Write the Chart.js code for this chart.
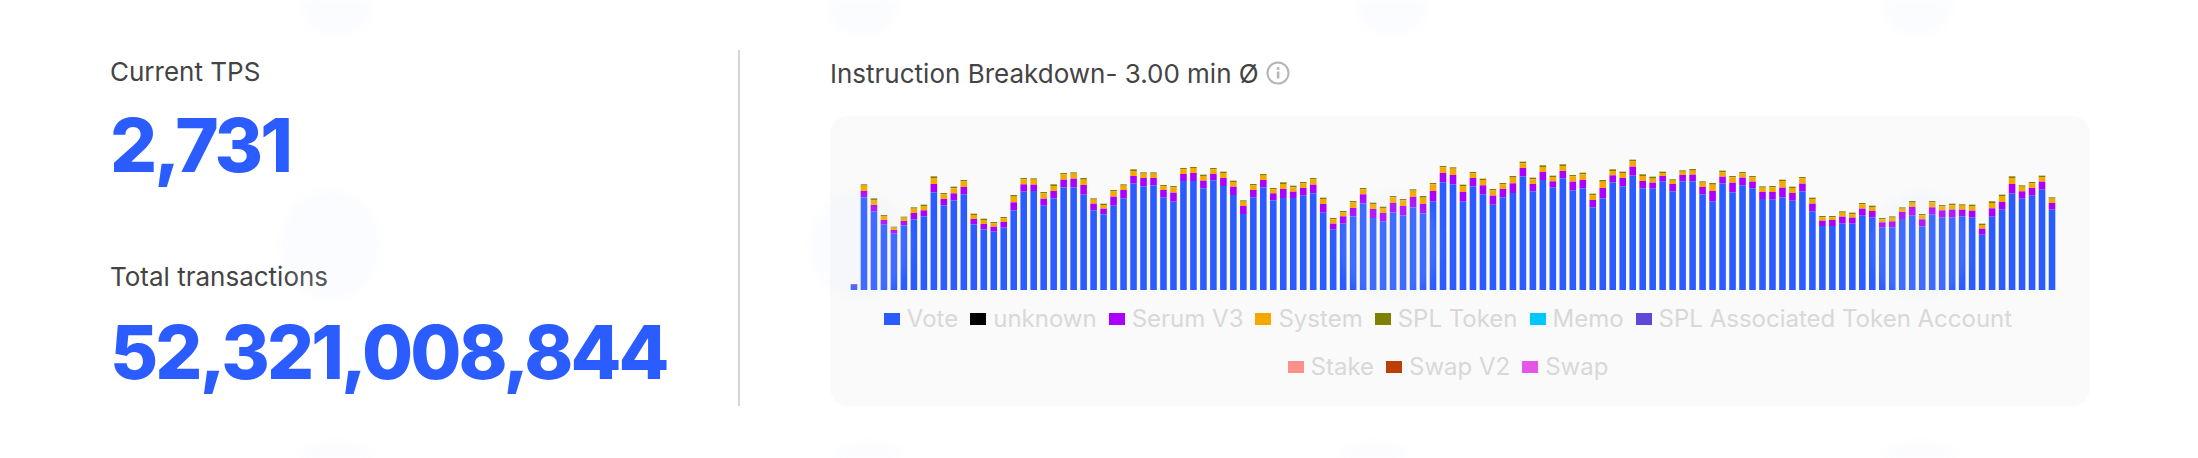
<!DOCTYPE html>
<html>
<head>
<meta charset="utf-8">
<title>Instruction Breakdown</title>
<script src="https://cdn.jsdelivr.net/npm/chart.js@4"></script>
<style>
  html, body { margin: 0; padding: 0; background: #fff; }
  body { width: 2198px; height: 458px; position: relative; overflow: hidden; font-family: Inter, sans-serif; }
  .abs { position: absolute; white-space: nowrap; line-height: 1; }
  .label { left: 110px; font-size: 26px; color: #444; }
  .value { left: 110px; font-size: 74px; font-weight: 800; color: #2a5cff; letter-spacing: -2.9px; }
  #divider { position: absolute; left: 738px; top: 50px; width: 2px; height: 356px; background: #d6d6d6; }
  #title { left: 830px; top: 61px; font-size: 26px; color: #444; }
  #info { position: absolute; left: 1266px; top: 61px; }
  #panel { position: absolute; left: 830px; top: 116px; width: 1260px; height: 290px; background: #fafafa; border-radius: 18px; }
  #chartBox { position: absolute; left: 849px; top: 140px; width: 1208px; height: 150px; }
  #legend { position: absolute; left: 848px; width: 1200px; top: 301px; display: flex; flex-wrap: wrap; justify-content: center; font-size: 24px; color: #d8d8d8; line-height: 36px; row-gap: 12px; }
  #legend div { display: flex; align-items: center; margin: 0 6px; }
  #legend i { display: block; width: 16px; height: 12px; margin-right: 7px; }
  #watermark { position: absolute; left: 0; top: 0; pointer-events: none; filter: blur(5px); }
</style>
</head>
<body>
<div class="abs label" id="tpsLabel" style="top:59px">Current TPS</div>
<div class="abs value" id="tpsValue" style="top:108px">2,731</div>
<div class="abs label" id="totalLabel" style="top:264px">Total transactions</div>
<div class="abs value" id="totalValue" style="top:315px">52,321,008,844</div>
<div id="divider"></div>
<div class="abs" id="title">Instruction Breakdown- 3.00 min Ø</div>
<svg id="info" width="24" height="24" viewBox="0 0 24 24">
  <circle cx="12" cy="12" r="10.5" fill="none" stroke="#b5b5b5" stroke-width="2"/>
  <rect x="10.8" y="10.5" width="2.6" height="7" fill="#b5b5b5"/>
  <rect x="10.8" y="6.2" width="2.6" height="2.6" fill="#b5b5b5"/>
</svg>
<div id="panel"></div>
<div id="chartBox"><canvas id="breakdownChart" width="1208" height="150"></canvas></div>
<div id="legend"></div>
<svg id="watermark" width="2198" height="458" fill="rgb(225,233,255)" fill-opacity="0.12">
  <ellipse cx="337" cy="0" rx="36" ry="36"/>
  <ellipse cx="862" cy="0" rx="36" ry="36"/>
  <ellipse cx="1392" cy="0" rx="36" ry="36"/>
  <ellipse cx="1917" cy="0" rx="36" ry="36"/>
  <ellipse cx="330" cy="245" rx="50" ry="55"/>
  <ellipse cx="860" cy="245" rx="50" ry="55"/>
  <ellipse cx="1390" cy="245" rx="50" ry="55"/>
  <ellipse cx="1920" cy="245" rx="50" ry="55"/>
  <ellipse cx="336" cy="458" rx="36" ry="16"/>
  <ellipse cx="870" cy="458" rx="36" ry="16"/>
  <ellipse cx="1374" cy="458" rx="36" ry="16"/>
  <ellipse cx="1920" cy="458" rx="36" ry="16"/>
</svg>
<script>
const seriesNames = ['Vote', 'unknown', 'Serum V3', 'System', 'SPL Token', 'Memo', 'SPL Associated Token Account', 'Stake', 'Swap V2', 'Swap'];
const seriesColors = ['#2a5cff', '#000000', '#aa00ff', '#f7a800', '#808000', '#00c8ff', '#5f4ad8', '#ff8f8a', '#bb3f06', '#e356e8'];

// one value per bar
const vote = [15,278,235,196,169,194,212,221,293,254,269,287,197,182,175,187,239,295,297,253,275,308,308,286,239,227,253,275,319,311,314,277,265,327,327,305,329,312,285,228,278,308,269,276,276,283,290,232,181,199,221,260,216,205,233,224,248,230,265,323,317,265,311,287,256,278,291,341,296,330,307,335,299,305,248,275,323,311,343,305,304,325,296,326,326,287,265,320,293,314,305,273,271,278,268,296,236,192,192,199,199,223,217,187,188,213,223,191,226,217,217,221,217,166,220,241,289,274,283,301,241];
const serumV3 = [2,19,20,14,11,13,19,18,25,19,21,22,16,16,15,17,24,22,19,21,22,23,26,29,20,17,27,25,23,25,22,23,27,21,24,23,19,24,25,24,22,22,21,27,19,23,26,26,18,22,25,27,27,26,28,28,31,28,32,28,28,29,25,27,27,25,29,25,22,24,19,22,26,25,22,31,21,25,27,22,18,17,22,19,20,22,32,20,29,23,20,21,23,29,23,23,23,16,18,21,18,21,20,16,18,21,26,21,22,22,24,20,21,18,25,23,29,22,23,24,20];
const system = [0,16,15,12,7,10,13,13,18,14,15,17,12,12,10,11,17,15,15,16,15,16,15,16,12,11,16,13,15,13,13,11,16,14,15,14,14,15,14,13,14,15,12,15,13,14,16,15,13,12,17,15,15,15,17,17,19,19,20,17,19,18,14,16,16,14,17,14,14,15,13,15,16,17,14,19,13,15,16,15,12,9,10,10,12,13,19,13,16,13,13,13,14,20,15,16,14,10,8,12,10,13,12,9,11,10,13,12,15,12,13,12,14,11,16,18,18,14,14,14,13];
const splToken = [1,4,5,3,3,3,4,4,5,4,5,4,4,4,4,4,5,4,4,4,5,4,4,5,4,4,4,4,5,4,4,4,4,4,3,4,4,4,4,4,4,3,4,5,5,4,4,4,4,4,4,4,4,4,4,4,4,5,4,4,4,4,4,4,4,4,5,5,5,5,4,5,4,5,5,5,5,4,5,5,6,4,4,4,5,4,5,5,4,4,4,4,4,4,4,4,4,4,4,4,5,4,4,4,4,4,5,4,4,4,5,4,4,4,5,4,5,4,4,4,4];
// too thin to see at this scale
const unknown = [];
const memo = [];
const splAssociated = [];
const stake = [];
const swapV2 = [];
const swap = [];

const seriesValues = [vote, unknown, serumV3, system, splToken, memo, splAssociated, stake, swapV2, swap];
const slots = vote.map((_, i) => i + 1);

new Chart(document.getElementById('breakdownChart').getContext('2d'), {
  type: 'bar',
  data: {
    labels: slots,
    datasets: seriesNames.map((name, i) => ({
      label: name,
      data: seriesValues[i],
      backgroundColor: seriesColors[i],
      barPercentage: 0.66,
      categoryPercentage: 1
    }))
  },
  options: {
    responsive: false,
    animation: false,
    plugins: { legend: { display: false }, tooltip: { enabled: false } },
    scales: {
      x: { stacked: true, display: false },
      y: { stacked: true, display: false, min: 0, max: 450 }
    }
  }
});

// html legend, the built-in one ties row height to item spacing
const legendEl = document.getElementById('legend');
seriesNames.forEach((name, i) => {
  const item = document.createElement('div');
  const box = document.createElement('i');
  box.style.background = seriesColors[i];
  item.appendChild(box);
  item.appendChild(document.createTextNode(name));
  legendEl.appendChild(item);
});
</script>
</body>
</html>
